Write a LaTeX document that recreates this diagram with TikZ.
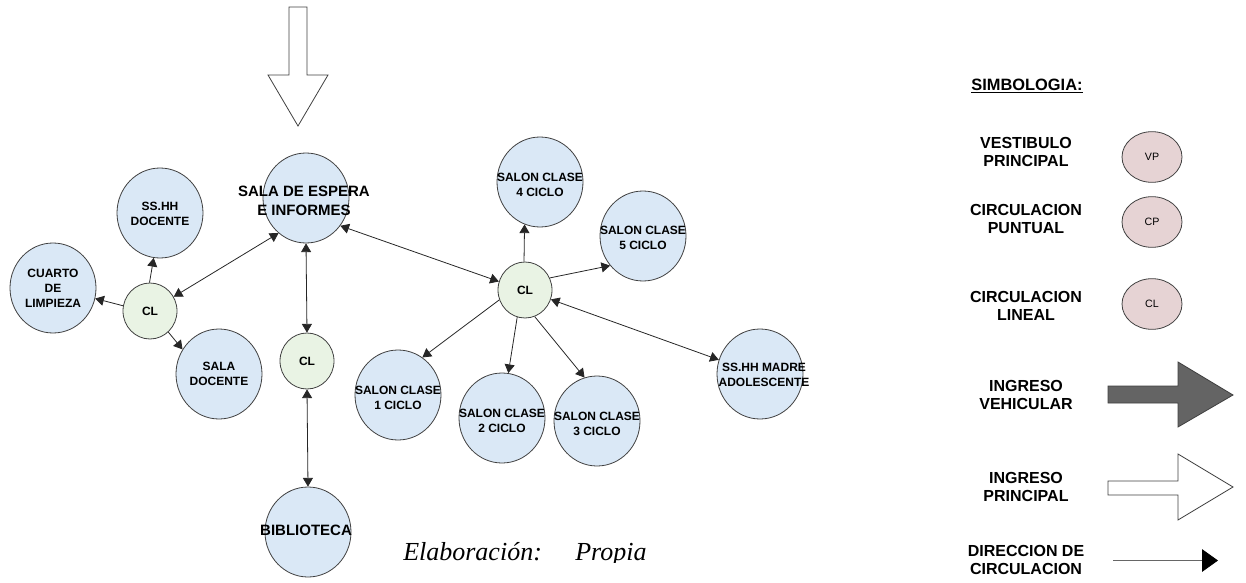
\documentclass[tikz,border=0pt]{standalone}
\usepackage{fontspec}
\setmainfont{Liberation Sans}
\newfontfamily\serifit{Liberation Serif}
\usetikzlibrary{shapes.geometric,arrows.meta}
\definecolor{roomblue}{RGB}{218,232,246}
\definecolor{hubgreen}{RGB}{233,243,228}
\definecolor{sympink}{RGB}{230,211,212}
\definecolor{darkarrow}{RGB}{100,100,100}
\begin{document}
\begin{tikzpicture}[x=0.75pt,y=-0.75pt,
  >={Triangle[length=6.5pt,width=7.5pt]},
  room/.style={ellipse, draw=black!75, line width=0.6pt, fill=roomblue, minimum width=64.5pt, minimum height=67.5pt, inner sep=0pt},
  hub/.style={ellipse, draw=black!75, line width=0.6pt, fill=hubgreen, minimum width=40.5pt, minimum height=42pt, inner sep=0pt},
  sym/.style={ellipse, draw=black!75, line width=0.6pt, fill=sympink, minimum width=45pt, minimum height=38pt, inner sep=0pt},
  lbl/.style={font=\bfseries\fontsize{9}{11.25}\selectfont, align=center, inner sep=0pt},
  biglbl/.style={font=\bfseries\fontsize{11.25}{14}\selectfont, align=center, inner sep=0pt},
  leg/.style={font=\bfseries\fontsize{12}{14}\selectfont, align=center, inner sep=0pt},
  symlbl/.style={font=\fontsize{8}{9.6}\selectfont, inner sep=0pt},
  conn/.style={line width=0.6pt, draw=black!85},
  bigarrow/.style={line width=0.6pt, draw=black!75, line join=miter}]
\path[use as bounding box] (0,0) rectangle (1246,582);

% main entrance arrow
\draw[bigarrow, fill=white] (289,7) -- (307,7) -- (307,75) -- (328,75) -- (298,126) -- (268,75) -- (289,75) -- cycle;

% rooms
\node[room] (sala) at (306,198) {};
\node[room] (ssd) at (160,213) {};
\node[room] (cuarto) at (53,288) {};
\node[room] (sd) at (219,374) {};
\node[room] (bib) at (308,532) {};
\node[room] (s1) at (398,395) {};
\node[room] (s2) at (502,418) {};
\node[room] (s3) at (597,421) {};
\node[room] (madre) at (760,374) {};
\node[room] (s4) at (540,182) {};
\node[room] (s5) at (643,236) {};
\node[hub] (cl1) at (150,311) {};
\node[hub] (cl2) at (307,361) {};
\node[hub] (cl3) at (525,290) {};

% labels
\node[biglbl] (tsala) at (304,201) {SALA DE ESPERA\\E INFORMES};
\node[lbl] (tssd) at (160,213.5) {SS.HH\\DOCENTE};
\node[lbl] (tcuarto) at (53,288) {CUARTO\\DE\\LIMPIEZA};
\node[lbl] (tsd) at (219,374) {SALA\\DOCENTE};
\node[biglbl] (tbib) at (306,530) {BIBLIOTECA};
\node[lbl] (ts1) at (398,397.5) {SALON CLASE\\1 CICLO};
\node[lbl] (ts2) at (502,420.5) {SALON CLASE\\2 CICLO};
\node[lbl] (ts3) at (597,423.5) {SALON CLASE\\3 CICLO};
\node[lbl] (tmadre) at (764,374.5) {SS.HH MADRE\\ADOLESCENTE};
\node[lbl] (ts4) at (540,184.5) {SALON CLASE\\4 CICLO};
\node[lbl] (ts5) at (643,237.5) {SALON CLASE\\5 CICLO};
\node[lbl] (tcl1) at (150,311) {CL};
\node[lbl] (tcl2) at (307,361) {CL};
\node[lbl] (tcl3) at (525,290) {CL};

% connectors
\draw[conn,<->] (sala.232) -- (cl1.31);
\draw[conn,->] (cl1.91) -- (ssd.262);
\draw[conn,->] (cl1.169) -- (cuarto.346);
\draw[conn,->] (cl1.311) -- (sd.146);
\draw[conn,<->] (sala.south) -- (cl2.north);
\draw[conn,<->] (cl2.south) -- (bib.north);
\draw[conn,<->] (sala.321) -- (cl3.162);
\draw[conn,->] (cl3.92) -- (s4.250);
\draw[conn,->] (cl3.26) -- (s5.222);
\draw[conn,->] (cl3.201) -- (s1.57);
\draw[conn,->] (cl3.254) -- (s2.82);
\draw[conn,->] (cl3.290) -- (s3.106);
\draw[conn,<->] (cl3.340) -- (madre.161);

% caption
\begin{scope}
\clip (380,530) rectangle (680,562);
\node[font=\serifit\itshape\fontsize{19.5}{22}\selectfont, anchor=base west, inner sep=0pt] (cap) at (403,560) {Elaboración:\hspace{25pt}Propia};
\end{scope}

% legend
\node[font=\bfseries\fontsize{12.3}{14}\selectfont, inner sep=0pt] (simb) at (1027,86) {\underline{SIMBOLOGIA:}};
\node[leg] (lvp) at (1026,152) {VESTIBULO\\PRINCIPAL};
\node[leg] (lcp) at (1026,219) {CIRCULACION\\PUNTUAL};
\node[leg] (lcl) at (1026,306) {CIRCULACION\\LINEAL};
\node[leg] (liv) at (1026,395) {INGRESO\\VEHICULAR};
\node[leg] (lip) at (1026,487) {INGRESO\\PRINCIPAL};
\node[leg] (ldc) at (1026,560) {DIRECCION DE\\CIRCULACION};

\node[sym] (vp) at (1152,157) {};
\node[symlbl] (tvp) at (1152,157) {VP};
\node[sym] (cp) at (1152,222) {};
\node[symlbl] (tcp) at (1152,222) {CP};
\node[sym] (cl) at (1152,304) {};
\node[symlbl] (tcl) at (1152,304) {CL};

\draw[bigarrow, fill=darkarrow] (1108,386) -- (1178,386) -- (1178,362) -- (1233,395) -- (1178,427) -- (1178,403) -- (1108,403) -- cycle;
\draw[bigarrow, fill=white] (1108,481) -- (1178,481) -- (1178,454) -- (1233,487) -- (1178,520) -- (1178,495) -- (1108,495) -- cycle;

\coordinate (d1) at (1113,560.5);
\coordinate (d2) at (1218,560.5);
\draw[line width=0.6pt, draw=black!60, -{Triangle[length=12pt,width=17pt,color=black,fill=black]}] (d1) -- (d2);
\end{tikzpicture}
\end{document}
